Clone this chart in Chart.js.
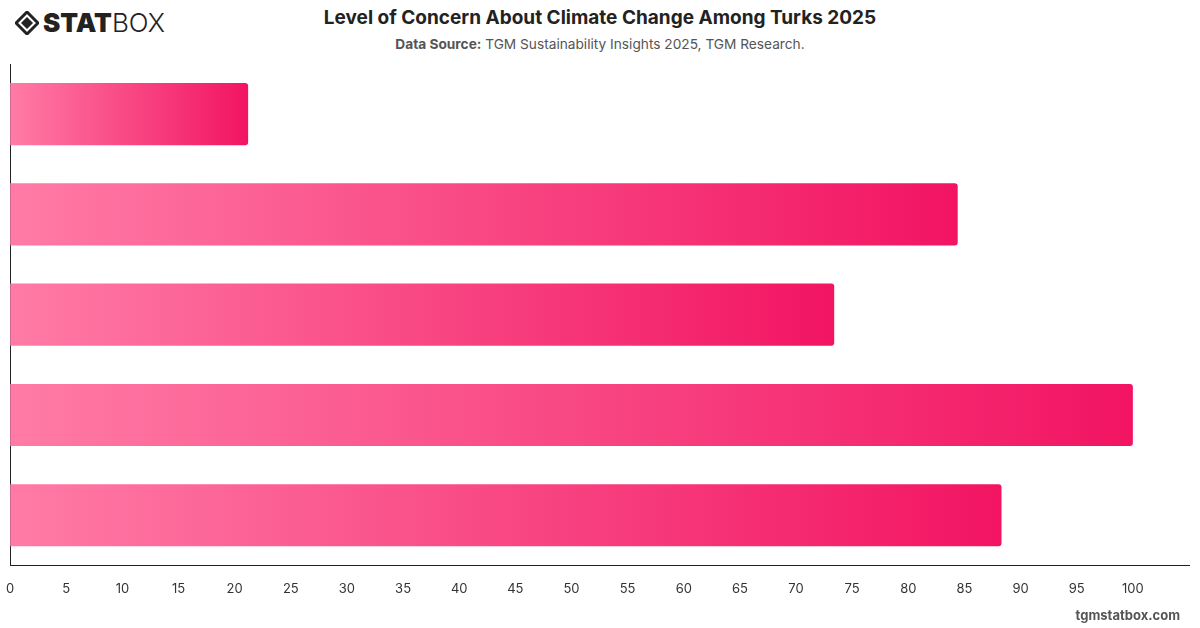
<!DOCTYPE html>
<html>
<head>
<meta charset="utf-8">
<script src="https://cdn.jsdelivr.net/npm/chart.js@4"></script>
<style>
    body { margin: 0; width: 1200px; height: 628px; background: #fff; font-family: Inter, "Noto Sans", sans-serif; position: relative; overflow: hidden; }
    .logo { position: absolute; left: 15px; top: 7px; display: flex; align-items: center; color: #222; }
    .logo svg { margin-right: 4px; }
    .logo .stat { font-weight: 900; font-size: 26px; letter-spacing: 0px; }
    .logo .box { font-weight: 300; font-size: 26px; }
    .title { position: absolute; top: 6px; left: 0; width: 1200px; text-align: center; font-weight: 700; font-size: 19px; color: #222; }
    .subtitle { position: absolute; top: 36px; left: 0; width: 1200px; text-align: center; font-size: 13.7px; color: #555; }
    .subtitle b { font-weight: 700; }
    .footer { position: absolute; right: 20px; top: 607px; font-weight: 700; font-size: 13px; color: #555; }
    #wrap { position: absolute; left: -10px; top: 64px; width: 1215px; height: 549px; }
</style>
</head>
<body>
<div class="logo">
    <svg width="24" height="24" viewBox="0 0 24 24">
        <path d="M12 1 L23 12 L12 23 L1 12 Z" fill="none" stroke="#222" stroke-width="3"/>
        <path d="M12 6 L18 12 L12 18 L6 12 Z" fill="#222"/>
    </svg>
    <span class="stat">STAT</span><span class="box">BOX</span>
</div>
<div class="title">Level of Concern About Climate Change Among Turks 2025</div>
<div class="subtitle"><b>Data Source:</b> TGM Sustainability Insights 2025, TGM Research.</div>
<div id="wrap"><canvas id="canvas"></canvas></div>
<div class="footer">tgmstatbox.com</div>

<script>
// categories are not printed on the chart
const labels = ['1', '2', '3', '4', '5']
const values = [21.2, 84.4, 73.4, 100, 88.3]

const barGradient = (context) => {
    const chart = context.chart
    const area = chart.chartArea
    if (!area) {
        return '#f5336f'
    }
    const end = chart.scales.x.getPixelForValue(context.raw)
    const g = chart.ctx.createLinearGradient(area.left, 0, Math.max(end, area.left + 1), 0)
    g.addColorStop(0, '#ff7ba6')
    g.addColorStop(1, '#f21462')
    return g
}

const dataToCanvas = {
    labels: labels,
    datasets: [
        {
            data: values,
            backgroundColor: barGradient,
            borderRadius: 3,
            borderSkipped: 'start',
            categoryPercentage: 1,
            barPercentage: 0.62,
        }
    ]
}

const config = {
    type: 'bar',
    data: dataToCanvas,
    options: {
        indexAxis: 'y',
        responsive: true,
        maintainAspectRatio: false,
        animation: false,
        layout: {
            padding: { left: 10, right: 0, top: 0, bottom: 0 }
        },
        plugins: {
            legend: { display: false },
            tooltip: { enabled: false },
        },
        scales: {
            x: {
                min: 0,
                max: 105,
                grid: { display: false, drawTicks: false },
                border: { display: true, color: '#222', width: 1 },
                ticks: {
                    stepSize: 5,
                    padding: 16,
                    color: '#333',
                    font: { family: 'Inter', size: 13 },
                    callback: (v) => v > 100 ? '' : v,
                },
            },
            y: {
                grid: { display: false, drawTicks: false },
                border: { display: true, color: '#222', width: 1 },
                ticks: { display: false },
                afterFit: (scale) => { scale.width = 0 },
            },
        },
    },
}

const canvas = document.getElementById('canvas')
const chart = new Chart(canvas, config)
</script>
</body>
</html>
